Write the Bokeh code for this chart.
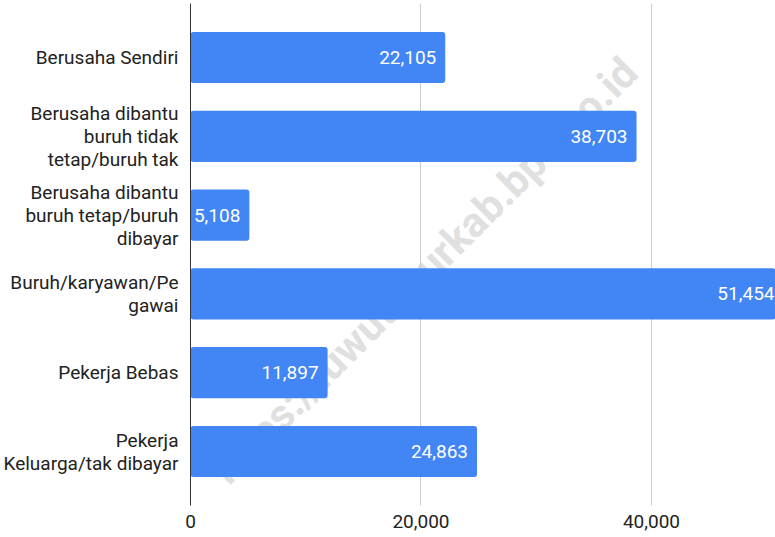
import math
from bokeh.plotting import figure
from bokeh.models import FactorRange, Range1d, FixedTicker, NumeralTickFormatter, Label, ColumnDataSource
from bokeh.core.properties import value
from bokeh.embed import file_html
from bokeh.resources import INLINE

# ---- data ----
categories = [
    "Berusaha Sendiri",
    "Berusaha dibantu\nburuh tidak\ntetap/buruh tak",
    "Berusaha dibantu\nburuh tetap/buruh\ndibayar",
    "Buruh/karyawan/Pe\ngawai",
    "Pekerja Bebas",
    "Pekerja\nKeluarga/tak dibayar",
]
counts = [22105, 38703, 5108, 51454, 11897, 24863]
x_ticks = [0, 20000, 40000]
watermark_text = "https://luwutimurkab.bps.go.id"

labels = [f"{v:,}" for v in counts]
src = ColumnDataSource(dict(cat=categories, val=counts, lab=labels))

FONT = "Roboto"
FS = "19px"

y_range = FactorRange(factors=categories[::-1], range_padding=0.0617)
p = figure(
    width=775, height=537,
    y_range=y_range, x_range=Range1d(0, 50760),
    output_backend="svg", toolbar_location=None,
    min_border_left=190, min_border_right=0,
    min_border_top=3, min_border_bottom=32,
)
p.outline_line_color = None
p.background_fill_color = "white"
p.border_fill_color = "white"

# watermark: painted under grid, axes and bars; kept inside the plot frame
wm = Label(
    x=234, y=235, x_units="screen", y_units="screen", text=watermark_text,
    angle=math.pi / 4, text_align="center", text_baseline="middle",
    text_font=FONT, text_font_style="bold", text_font_size="42px",
    text_color="#e0e0e0", level="guide",
)
p.xgrid.level = "guide"
p.center = [wm] + list(p.center)

bars = p.hbar(y="cat", right="val", height=0.65, source=src,
              fill_color="#4285F4", line_color=None, border_radius=3)
bars.level = "annotation"

txt = p.text(x="val", y="cat", text="lab", source=src,
             text_align="right", text_baseline="middle", x_offset=-9,
             text_color="white", text_font=value(FONT), text_font_size=FS)
txt.level = "annotation"

# x axis
p.xaxis.ticker = FixedTicker(ticks=x_ticks)
p.xaxis.formatter = NumeralTickFormatter(format="0,0")
p.xaxis.axis_line_color = None
p.xaxis.major_tick_line_color = None
p.xaxis.minor_tick_line_color = None
p.xaxis.major_label_text_font = FONT
p.xaxis.major_label_text_font_size = FS
p.xaxis.major_label_text_color = "#222222"
p.xaxis.major_label_standoff = 3
p.xaxis.level = "annotation"

# y axis
p.yaxis.axis_line_color = "#333333"
p.yaxis.major_tick_line_color = None
p.yaxis.minor_tick_line_color = None
p.yaxis.major_label_text_font = FONT
p.yaxis.major_label_text_font_size = FS
p.yaxis.major_label_text_color = "#222222"
p.yaxis.major_label_text_line_height = 1.0
p.yaxis.major_label_standoff = 6
p.yaxis.level = "annotation"

p.xgrid.ticker = FixedTicker(ticks=x_ticks)
p.xgrid.grid_line_color = "#cccccc"
p.ygrid.grid_line_color = None

open("out.html", "w").write(file_html(p, INLINE))
